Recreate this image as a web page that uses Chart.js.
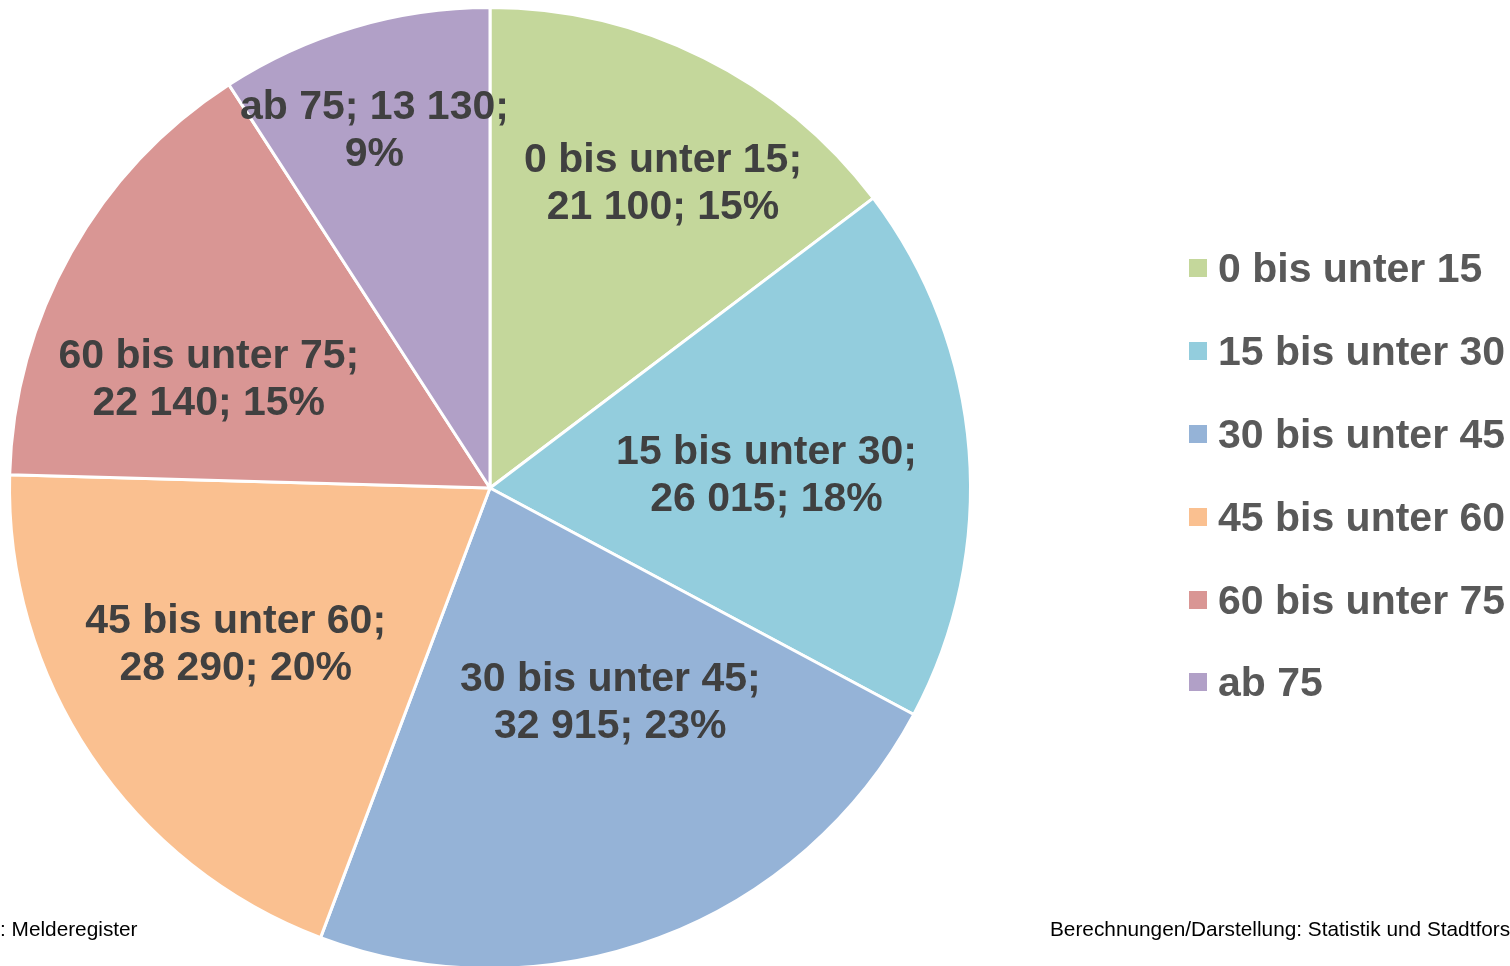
<!DOCTYPE html>
<html>
<head>
<meta charset="utf-8">
<script src="https://cdn.jsdelivr.net/npm/chart.js@4.4.1/dist/chart.umd.min.js"></script>
<style>
  html, body { margin: 0; padding: 0; background: #fff; overflow: hidden; width: 1510px; height: 966px; }
  #wrap { position: absolute; left: 0; top: 0; width: 1510px; height: 974px; }
  #legend { position: absolute; left: 1189px; top: 0; font-family: "Liberation Sans", Arial, sans-serif; font-weight: bold; font-size: 41px; color: #595959; }
  .li { position: absolute; left: 0; white-space: nowrap; height: 48px; line-height: 48px; }
  .sw { position: absolute; left: 0; top: 15px; width: 18px; height: 18px; }
  .lt { position: absolute; left: 29px; top: 0; }
  .foot { position: absolute; font-family: "Liberation Sans", Arial, sans-serif; font-size: 20.8px; color: #000; white-space: nowrap; }
</style>
</head>
<body>
<div id="wrap"><canvas id="c"></canvas></div>
<div id="legend"></div>
<div class="foot" style="left:0px; top:917px;">: Melderegister</div>
<div class="foot" style="left:1050px; top:917px;">Berechnungen/Darstellung: Statistik und Stadtforschung</div>
<script>
const categories = ["0 bis unter 15", "15 bis unter 30", "30 bis unter 45", "45 bis unter 60", "60 bis unter 75", "ab 75"];
const values = [21100, 26015, 32915, 28290, 22140, 13130];
const valueLabels = ["21 100", "26 015", "32 915", "28 290", "22 140", "13 130"];
const percentLabels = ["15%", "18%", "23%", "20%", "15%", "9%"];
const colors = ["#C4D79B", "#93CDDD", "#95B3D7", "#FAC090", "#D99694", "#B1A0C7"];

// label placement (style): radius fraction and angle tweak (degrees)
const labelRadius = [0.728, 0.576, 0.513, 0.622, 0.627, 0.78];
const labelAngleShift = [3.2, 2.0, -8.6, 2.2, -8.3, -1.5];
const labelLines = [
  (i) => [categories[i] + ";", valueLabels[i] + "; " + percentLabels[i]],
  (i) => [categories[i] + ";", valueLabels[i] + "; " + percentLabels[i]],
  (i) => [categories[i] + ";", valueLabels[i] + "; " + percentLabels[i]],
  (i) => [categories[i] + ";", valueLabels[i] + "; " + percentLabels[i]],
  (i) => [categories[i] + ";", valueLabels[i] + "; " + percentLabels[i]],
  (i) => [categories[i] + "; " + valueLabels[i] + ";", percentLabels[i]]
];

const labelPlugin = {
  id: 'sliceLabels',
  afterDatasetsDraw(chart) {
    const ctx = chart.ctx;
    const meta = chart.getDatasetMeta(0);
    ctx.save();
    ctx.font = 'bold 41px "Liberation Sans", Arial, sans-serif';
    ctx.fillStyle = '#404040';
    ctx.textAlign = 'center';
    ctx.textBaseline = 'middle';
    meta.data.forEach((arc, i) => {
      const p = arc.getProps(['x', 'y', 'startAngle', 'endAngle', 'outerRadius'], true);
      const mid = (p.startAngle + p.endAngle) / 2 + labelAngleShift[i] * Math.PI / 180;
      const r = p.outerRadius * labelRadius[i];
      const cx = p.x + Math.cos(mid) * r;
      const cy = p.y + Math.sin(mid) * r;
      const lines = labelLines[i](i);
      const lh = 47;
      lines.forEach((t, k) => {
        ctx.fillText(t, cx, cy + (k - (lines.length - 1) / 2) * lh);
      });
    });
    ctx.restore();
  }
};

new Chart(document.getElementById('c'), {
  type: 'pie',
  data: {
    labels: categories,
    datasets: [{
      data: values,
      backgroundColor: colors,
      borderColor: '#ffffff',
      borderWidth: 3
    }]
  },
  options: {
    responsive: true,
    maintainAspectRatio: false,
    animation: false,
    layout: { padding: { left: 8, right: 538, top: 6, bottom: 4 } },
    plugins: {
      legend: { display: false },
      tooltip: { enabled: false }
    }
  },
  plugins: [labelPlugin]
});

const legendTops = [244, 327, 410, 493, 576, 658];
const lg = document.getElementById('legend');
categories.forEach((c, i) => {
  const d = document.createElement('div');
  d.className = 'li';
  d.style.top = legendTops[i] + 'px';
  d.innerHTML = '<span class="sw" style="background:' + colors[i] + '"></span><span class="lt">' + c + '</span>';
  lg.appendChild(d);
});
</script>
</body>
</html>
